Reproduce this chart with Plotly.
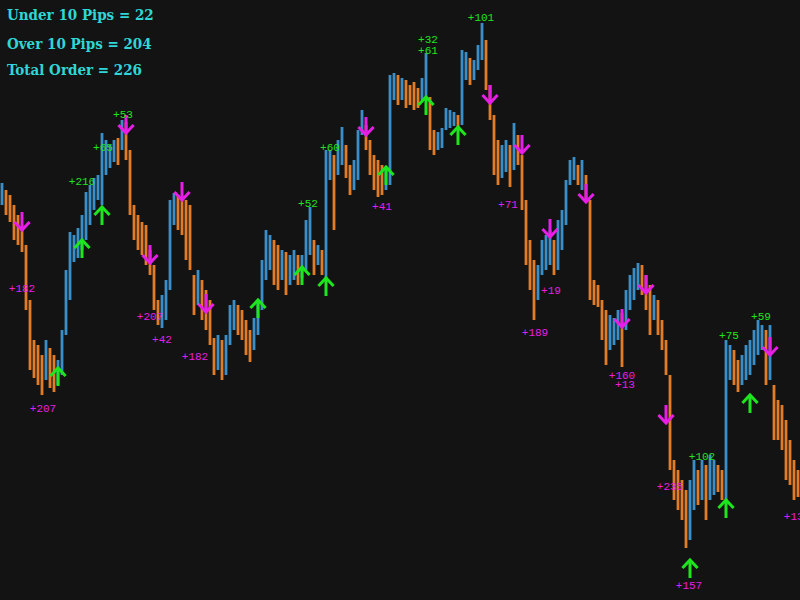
import plotly.graph_objects as go

# Price bars (bar index 0..199), high / low prices
bar_high = [417, 410, 405, 395, 385, 372, 355, 300, 260, 255, 245, 260, 252, 245, 240, 270, 330, 368, 365, 372,
            385, 408, 415, 422, 425, 467, 460, 455, 460, 462, 480, 478, 450, 395, 385, 378, 375, 350, 335, 300,
            305, 320, 400, 407, 405, 400, 400, 395, 325, 330, 320, 310, 300, 262, 265, 260, 265, 295, 300, 295,
            290, 280, 270, 282, 300, 340, 370, 365, 360, 355, 350, 348, 345, 350, 345, 345, 380, 393, 360, 355,
            350, 450, 450, 445, 460, 473, 455, 435, 440, 470, 490, 475, 460, 445, 440, 435, 432, 525, 527, 525,
            522, 520, 515, 518, 512, 522, 547, 503, 470, 468, 472, 492, 490, 488, 485, 550, 548, 542, 540, 555,
            577, 560, 515, 485, 460, 455, 460, 455, 477, 465, 445, 400, 360, 340, 335, 360, 365, 370, 360, 380,
            390, 420, 440, 443, 435, 440, 425, 400, 320, 315, 300, 290, 285, 282, 290, 287, 310, 325, 332, 337,
            335, 325, 315, 305, 300, 280, 260, 225, 140, 130, 120, 110, 120, 140, 130, 140, 135, 145, 140, 135,
            130, 260, 255, 250, 240, 245, 255, 260, 270, 280, 275, 270, 275, 215, 200, 195, 180, 160, 140, 130]
bar_low = [395, 385, 378, 360, 355, 348, 290, 230, 222, 215, 205, 220, 212, 208, 215, 225, 265, 300, 338, 342,
           350, 360, 375, 390, 400, 395, 425, 432, 438, 435, 450, 440, 385, 360, 350, 345, 335, 325, 290, 275,
           272, 280, 310, 375, 370, 365, 340, 330, 285, 295, 280, 270, 255, 225, 230, 220, 225, 255, 270, 265,
           260, 245, 238, 250, 265, 290, 320, 330, 315, 310, 320, 305, 315, 320, 315, 322, 330, 345, 325, 335,
           325, 322, 420, 370, 425, 435, 422, 405, 410, 420, 465, 450, 425, 410, 403, 405, 410, 415, 500, 495,
           500, 492, 495, 490, 492, 500, 500, 450, 445, 450, 452, 470, 472, 474, 470, 475, 520, 515, 520, 530,
           540, 510, 480, 425, 415, 422, 428, 413, 430, 435, 390, 335, 310, 280, 300, 325, 330, 335, 325, 330,
           350, 375, 415, 420, 415, 410, 400, 300, 295, 293, 260, 235, 250, 255, 260, 233, 270, 290, 300, 310,
           305, 290, 265, 280, 265, 250, 225, 130, 100, 90, 80, 52, 60, 90, 95, 100, 80, 100, 105, 108,
           100, 100, 220, 215, 208, 215, 220, 225, 235, 245, 250, 215, 220, 160, 160, 150, 120, 115, 100, 103]

# Buy signals (bar index, arrow tip price) and sell signals
buy_idx = [14, 20, 25, 64, 75, 81, 96, 106, 114, 172, 181, 187]
buy_price = [232, 360, 393, 300, 333, 322, 433, 503, 473, 40, 100, 205]
sell_idx = [5, 31, 37, 45, 51, 91, 122, 130, 137, 146, 155, 161, 166, 192]
sell_price = [370, 467, 337, 400, 288, 465, 497, 447, 363, 398, 273, 307, 177, 245]

# Profit labels
green_text = ["+216", "+65", "+53", "+52", "+60", "+32", "+61", "+101", "+102", "+75", "+59"]
green_x = [20, 25.25, 30.25, 76.5, 82, 106.5, 106.5, 119.75, 175, 181.75, 189.75]
green_y = [418, 452, 485, 396, 452, 560, 549, 582, 143, 264, 283]
mag_text = ["+182", "+207", "+207", "+42", "+182", "+41", "+71", "+189", "+19", "+160", "+13", "+235", "+157", "+132"]
mag_x = [5, 10.25, 37, 40, 48.25, 95, 126.5, 133.25, 137.25, 155, 155.75, 167, 171.75, 198.75]
mag_y = [311, 191, 283, 260, 243, 393, 395, 267, 309, 224, 215, 113, 14, 83]

stats_text = ["Under 10 Pips = 22", "Over 10 Pips = 204", "Total Order = 226"]

BLUE = "#3a8fc8"
ORANGE = "#e27c26"
GREEN = "#1ee61e"
MAGENTA = "#e61ee6"
BG = "#131313"

fig = go.Figure()

bx = {"up": [], "dn": []}
by = {"up": [], "dn": []}
prev_mid = None
for i, (h, l) in enumerate(zip(bar_high, bar_low)):
    mid = h + l
    key = "up" if (prev_mid is None or mid >= prev_mid) else "dn"
    prev_mid = mid
    bx[key] += [i, i, None]
    by[key] += [l, h, None]

fig.add_trace(go.Scatter(x=bx["dn"], y=by["dn"], mode="lines", line=dict(color=ORANGE, width=2.8),
                         hoverinfo="skip", showlegend=False))
fig.add_trace(go.Scatter(x=bx["up"], y=by["up"], mode="lines", line=dict(color=BLUE, width=2.8),
                         hoverinfo="skip", showlegend=False))

STEM = 18
HEAD_H = 8
HEAD_W = 1.9


def arrows(idx, tips, direction):
    xs, ys = [], []
    s = -1 if direction == "up" else 1
    for i, t in zip(idx, tips):
        xs += [i, i, None, i - HEAD_W, i, i + HEAD_W, None]
        ys += [t, t + s * STEM, None, t + s * HEAD_H, t, t + s * HEAD_H, None]
    return xs, ys


ux, uy = arrows(buy_idx, buy_price, "up")
dx, dy = arrows(sell_idx, sell_price, "down")
fig.add_trace(go.Scatter(x=ux, y=uy, mode="lines", line=dict(color=GREEN, width=3),
                         hoverinfo="skip", showlegend=False))
fig.add_trace(go.Scatter(x=dx, y=dy, mode="lines", line=dict(color=MAGENTA, width=3),
                         hoverinfo="skip", showlegend=False))

fig.add_trace(go.Scatter(x=green_x, y=green_y, mode="text", text=green_text,
                         textfont=dict(family="Liberation Mono", size=11, color=GREEN),
                         hoverinfo="skip", showlegend=False))
fig.add_trace(go.Scatter(x=mag_x, y=mag_y, mode="text", text=mag_text,
                         textfont=dict(family="Liberation Mono", size=11, color=MAGENTA),
                         hoverinfo="skip", showlegend=False, cliponaxis=False))

for k, (t, ypx) in enumerate(zip(stats_text, [15, 44, 70])):
    fig.add_annotation(text=t, xref="paper", yref="paper", x=5 / 800, y=1 - ypx / 600,
                       xanchor="left", yanchor="middle", showarrow=False,
                       font=dict(family="DejaVu Serif Condensed, DejaVu Serif", size=15,
                                 weight="bold", color="#2fd6d6"))

fig.update_layout(
    width=800, height=600,
    margin=dict(l=0, r=0, t=0, b=0),
    paper_bgcolor=BG, plot_bgcolor=BG,
    xaxis=dict(range=[-0.5, 199.5], visible=False, fixedrange=True),
    yaxis=dict(range=[0, 600], visible=False, fixedrange=True),
)

fig.write_html("out.html", config={"displayModeBar": False},
               post_script="document.body.style.margin='0';document.body.style.background='#131313';")
